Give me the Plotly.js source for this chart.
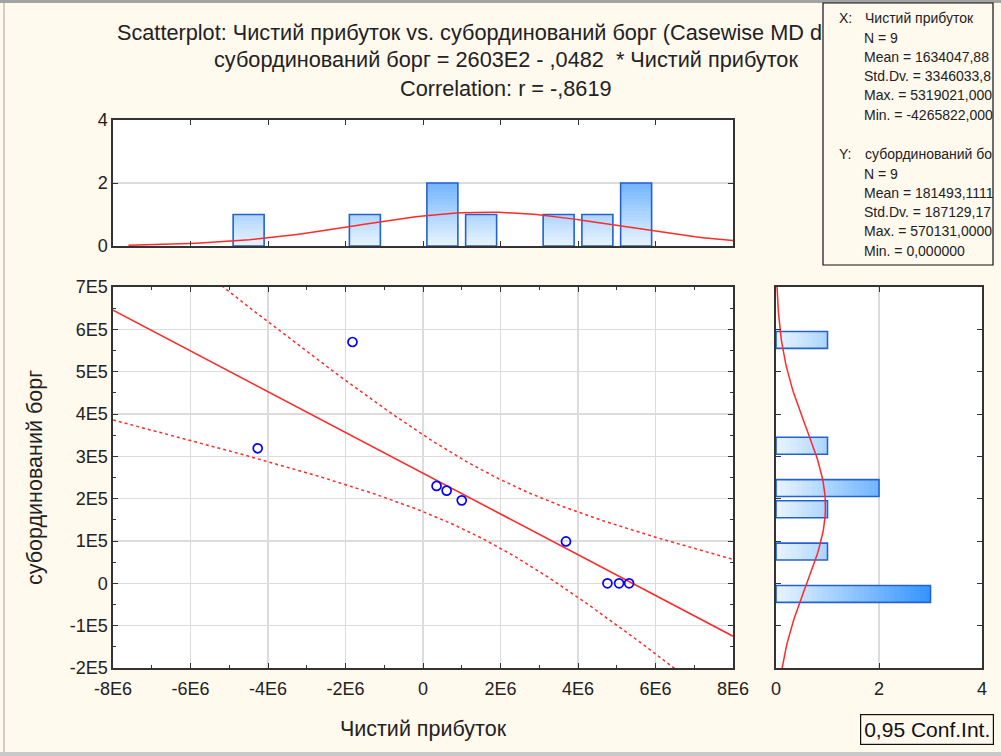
<!DOCTYPE html>
<html>
<head>
<meta charset="utf-8">
<script src="https://cdn.plot.ly/plotly-3.0.1.min.js"></script>
<style>
  html, body { margin: 0; padding: 0; background: #fff9ee; }
  #chart { width: 1001px; height: 756px; }
</style>
</head>
<body>
<div id="chart"></div>
<script>
// ---------- data ----------
const xName = 'Чистий прибуток';
const yName = 'субординований борг';

const xVals = [-4265822, -1820000, 350000, 610000, 1000000, 3690000, 4760000, 5060000, 5319021];
const yVals = [319000, 570131, 230000, 219000, 196000, 99000, 0, 0, 0];

// histogram of X (top) : bin centres and counts
const xBinCenters = [-4500000, -1500000, 500000, 1500000, 3500000, 4500000, 5500000];
const xCounts = [1, 1, 2, 1, 1, 1, 2];
const xBinWidth = 1000000;

// histogram of Y (right) : bin centres and counts
const yBinCenters = [-25000, 75000, 175000, 225000, 325000, 575000];
const yCounts = [3, 1, 1, 2, 1, 1];
const yBinWidth = 50000;

// tick labels
const xTickVals = [-8e6, -6e6, -4e6, -2e6, 0, 2e6, 4e6, 6e6, 8e6];
const xTickText = ['-8E6', '-6E6', '-4E6', '-2E6', '0', '2E6', '4E6', '6E6', '8E6'];
const yTickVals = [-2e5, -1e5, 0, 1e5, 2e5, 3e5, 4e5, 5e5, 6e5, 7e5];
const yTickText = ['-2E5', '-1E5', '0', '1E5', '2E5', '3E5', '4E5', '5E5', '6E5', '7E5'];
const histTickVals = [0, 2, 4];
const histTickText = ['0', '2', '4'];

// visible text (the first title line is cut by the statistics box in the reference)
const titleLines = [
  'Scatterplot: Чистий прибуток vs. субординований борг (Casewise MD d',
  'субординований борг = 2603E2 - ,0482  * Чистий прибуток',
  'Correlation: r = -,8619'
];
const statsXHead = ['X:', 'Чистий прибуток'];
const statsX = ['N = 9', 'Mean = 1634047,88', 'Std.Dv. = 3346033,8', 'Max. = 5319021,000', 'Min. = -4265822,000'];
const statsYHead = ['Y:', 'субординований бо'];
const statsY = ['N = 9', 'Mean = 181493,1111', 'Std.Dv. = 187129,17', 'Max. = 570131,0000', 'Min. = 0,000000'];
const confLabel = '0,95 Conf.Int.';

// ---------- statistics derived from the data ----------
const n = xVals.length;
const mean = a => a.reduce((s, v) => s + v, 0) / a.length;
const mx = mean(xVals), my = mean(yVals);
let sxx = 0, sxy = 0, syy = 0;
for (let i = 0; i < n; i++) {
  sxx += (xVals[i] - mx) ** 2;
  sxy += (xVals[i] - mx) * (yVals[i] - my);
  syy += (yVals[i] - my) ** 2;
}
const slope = sxy / sxx;
const intercept = my - slope * mx;
const sdx = Math.sqrt(sxx / (n - 1)), sdy = Math.sqrt(syy / (n - 1));
const sse = syy - slope * sxy;
const se = Math.sqrt(sse / (n - 2));
const tCrit = 2.3646; // t(0.975, 7)

const lineX = [], fitY = [], upY = [], loY = [];
for (let i = 0; i <= 160; i++) {
  const x = -8e6 + i * 1e5;
  const f = intercept + slope * x;
  const h = tCrit * se * Math.sqrt(1 / n + (x - mx) ** 2 / sxx);
  lineX.push(x); fitY.push(f); upY.push(f + h); loY.push(f - h);
}
const normPdf = (v, m, s) => Math.exp(-0.5 * ((v - m) / s) ** 2) / (s * Math.sqrt(2 * Math.PI));
const topCurveX = [], topCurveY = [];
for (let i = 0; i <= 80; i++) {
  const x = -7.6e6 + i * (15.6e6 / 80);
  topCurveX.push(x); topCurveY.push(n * xBinWidth * normPdf(x, mx, sdx));
}
const rightCurveY = [], rightCurveX = [];
for (let i = 0; i <= 90; i++) {
  const y = -2e5 + i * 1e4;
  rightCurveY.push(y); rightCurveX.push(n * yBinWidth * normPdf(y, my, sdy));
}

// ---------- geometry helpers (page pixels -> paper) ----------
const W = 1001, H = 756;
const px = v => v / W;
const py = v => 1 - v / H;

const FONT = 'Liberation Sans, Arial, sans-serif';
const RED = '#ff2a2a';
const BAR_LINE = '#2462d2';
const INK = '#222222';

// gradient fill for bars by count value
function gradColor(v) {
  const t = Math.min(v / 3, 1);
  const c0 = [234, 245, 255], c1 = [52, 148, 255];
  const c = c0.map((a, i) => Math.round(a + (c1[i] - a) * t));
  return `rgb(${c[0]},${c[1]},${c[2]})`;
}

const traces = [];
const step = 0.1;
function histTraces(centers, counts, width, horizontal, xa, ya) {
  const maxC = Math.max(...counts);
  const K = Math.ceil(maxC / step);
  for (let k = K - 1; k >= 0; k--) {
    const len = counts.map(c => (c > k * step ? Math.min(c, (k + 1) * step) : null));
    const t = {
      type: 'bar', xaxis: xa, yaxis: ya, width: width, hoverinfo: 'skip', showlegend: false,
      marker: { color: gradColor((k + 0.5) * step), line: { width: 0 } }
    };
    if (horizontal) { t.orientation = 'h'; t.y = centers; t.x = len; t.base = 0; }
    else { t.x = centers; t.y = len; t.base = 0; }
    traces.push(t);
  }
  const o = {
    type: 'bar', xaxis: xa, yaxis: ya, width: width, hoverinfo: 'skip', showlegend: false,
    marker: { color: 'rgba(0,0,0,0)', line: { width: 1.6, color: BAR_LINE } }
  };
  if (horizontal) { o.orientation = 'h'; o.y = centers; o.x = counts; }
  else { o.x = centers; o.y = counts; }
  traces.push(o);
}
histTraces(xBinCenters, xCounts, 0.8 * xBinWidth, false, 'x2', 'y2');
histTraces(yBinCenters, yCounts, 0.8 * yBinWidth, true, 'x3', 'y3');

traces.push({ type: 'scatter', mode: 'lines', x: topCurveX, y: topCurveY, xaxis: 'x2', yaxis: 'y2',
  line: { color: RED, width: 1.5 }, hoverinfo: 'skip', showlegend: false });
traces.push({ type: 'scatter', mode: 'lines', x: rightCurveX, y: rightCurveY, xaxis: 'x3', yaxis: 'y3',
  line: { color: RED, width: 1.5 }, hoverinfo: 'skip', showlegend: false });

traces.push({ type: 'scatter', mode: 'lines', x: lineX, y: upY, xaxis: 'x', yaxis: 'y',
  line: { color: RED, width: 1.5, dash: '3px,3px' }, showlegend: false });
traces.push({ type: 'scatter', mode: 'lines', x: lineX, y: loY, xaxis: 'x', yaxis: 'y',
  line: { color: RED, width: 1.5, dash: '3px,3px' }, showlegend: false });
traces.push({ type: 'scatter', mode: 'lines', x: [lineX[0], lineX[lineX.length - 1]],
  y: [fitY[0], fitY[fitY.length - 1]], xaxis: 'x', yaxis: 'y',
  line: { color: RED, width: 1.6 }, showlegend: false });
traces.push({ type: 'scatter', mode: 'markers', x: xVals, y: yVals, xaxis: 'x', yaxis: 'y',
  marker: { symbol: 'circle-open', size: 9, color: '#0000ff', line: { width: 1.7, color: '#0000ff' } },
  showlegend: false });

const TICKFONT = { family: FONT, size: 18, color: INK };
const frame = { showline: true, linecolor: '#333333', linewidth: 1.6, mirror: 'ticks',
  ticks: 'inside', ticklen: 5, tickcolor: '#333333', tickwidth: 1, zeroline: false,
  tickfont: TICKFONT, gridcolor: '#dcdcdc', gridwidth: 1.5 };

const mainXDom = [px(113), px(733)];
const mainYDom = [py(668), py(287)];

const layout = {
  width: W, height: H,
  margin: { l: 0, r: 0, t: 0, b: 0 },
  paper_bgcolor: '#fff9ee', plot_bgcolor: '#ffffff',
  barmode: 'overlay', bargap: 0,
  showlegend: false,
  font: { family: FONT, color: INK },
  xaxis: Object.assign({}, frame, {
    domain: mainXDom, range: [-8e6, 8e6], anchor: 'y',
    tickmode: 'array', tickvals: xTickVals, ticktext: xTickText, showgrid: true, ticklabelstandoff: 4,
    minor: { tickmode: 'linear', tick0: 0, dtick: 1e6, ticks: 'inside', ticklen: 3, tickcolor: '#333333', showgrid: false },
    title: { text: xName, font: { family: FONT, size: 21.5, color: INK }, standoff: 23 }
  }),
  yaxis: Object.assign({}, frame, {
    domain: mainYDom, range: [-2e5, 7e5], anchor: 'x',
    tickmode: 'array', tickvals: yTickVals, ticktext: yTickText, showgrid: true,
    minor: { tickmode: 'linear', tick0: 0, dtick: 5e4, ticks: 'inside', ticklen: 3, tickcolor: '#333333', showgrid: false },
    title: { text: yName, font: { family: FONT, size: 21.5, color: INK }, standoff: 21 }
  }),
  xaxis2: Object.assign({}, frame, {
    domain: mainXDom, range: [-8e6, 8e6], anchor: 'y2', matches: 'x',
    tickmode: 'array', tickvals: xTickVals, showticklabels: false, showgrid: false
  }),
  yaxis2: Object.assign({}, frame, {
    domain: [py(246), py(120)], range: [0, 4], anchor: 'x2',
    tickmode: 'array', tickvals: histTickVals, ticktext: histTickText, showgrid: true
  }),
  xaxis3: Object.assign({}, frame, {
    domain: [px(776), px(982)], range: [0, 4], anchor: 'y3', ticklabelstandoff: 4,
    tickmode: 'array', tickvals: histTickVals, ticktext: histTickText, showgrid: true
  }),
  yaxis3: Object.assign({}, frame, {
    domain: mainYDom, range: [-2e5, 7e5], anchor: 'x3', matches: 'y',
    tickmode: 'array', tickvals: yTickVals, showticklabels: false, showgrid: false
  }),
  shapes: [
    { type: 'rect', xref: 'paper', yref: 'paper', x0: 0, x1: 1, y0: py(3), y1: 1,
      fillcolor: '#a3a3a3', line: { width: 0 }, layer: 'below' },
    { type: 'rect', xref: 'paper', yref: 'paper', x0: 0, x1: 1, y0: 0, y1: py(752),
      fillcolor: '#c9c9c9', line: { width: 0 }, layer: 'below' },
    { type: 'line', xref: 'paper', yref: 'paper', x0: px(4), x1: px(4), y0: py(752), y1: py(3),
      line: { color: '#a3a3a3', width: 1 }, layer: 'below' },
    // statistics box
    { type: 'rect', xref: 'paper', yref: 'paper', x0: px(823), x1: px(993), y0: py(265), y1: py(3),
      fillcolor: '#fff9ee', line: { color: '#111111', width: 1.2 }, layer: 'above' }
  ],
  annotations: []
};

const ann = layout.annotations;
const titleFont = { family: FONT, size: 21.7, color: INK };
ann.push({ xref: 'paper', yref: 'paper', x: px(116), y: py(32), xanchor: 'left', yanchor: 'middle',
  text: titleLines[0], showarrow: false, font: titleFont, borderpad: 0 });
ann.push({ xref: 'paper', yref: 'paper', x: px(506), y: py(60), xanchor: 'center', yanchor: 'middle',
  text: titleLines[1], showarrow: false, font: titleFont, borderpad: 0 });
ann.push({ xref: 'paper', yref: 'paper', x: px(506), y: py(88), xanchor: 'center', yanchor: 'middle',
  text: titleLines[2], showarrow: false, font: titleFont, borderpad: 0 });

const statFont = { family: FONT, size: 14, color: INK };
function statText(s, x, yy) {
  ann.push({ xref: 'paper', yref: 'paper', x: px(x), y: py(yy), xanchor: 'left', yanchor: 'middle',
    text: s, showarrow: false, font: statFont, borderpad: 0 });
}
statText(statsXHead[0], 838, 18); statText(statsXHead[1], 864, 18);
statsX.forEach((s, i) => statText(s, 863, 37.5 + i * 19.3));
statText(statsYHead[0], 838, 154); statText(statsYHead[1], 864, 154);
statsY.forEach((s, i) => statText(s, 863, 173.5 + i * 19.3));

ann.push({ xref: 'paper', yref: 'paper', x: px(926.5), y: py(729.5), xanchor: 'center', yanchor: 'middle',
  text: confLabel, showarrow: false, font: { family: FONT, size: 21, color: '#111' },
  bgcolor: '#fff9ee', bordercolor: '#111', borderwidth: 1.2, borderpad: 3 });

Plotly.newPlot('chart', traces, layout, { displayModeBar: false, staticPlot: true });
</script>
</body>
</html>
